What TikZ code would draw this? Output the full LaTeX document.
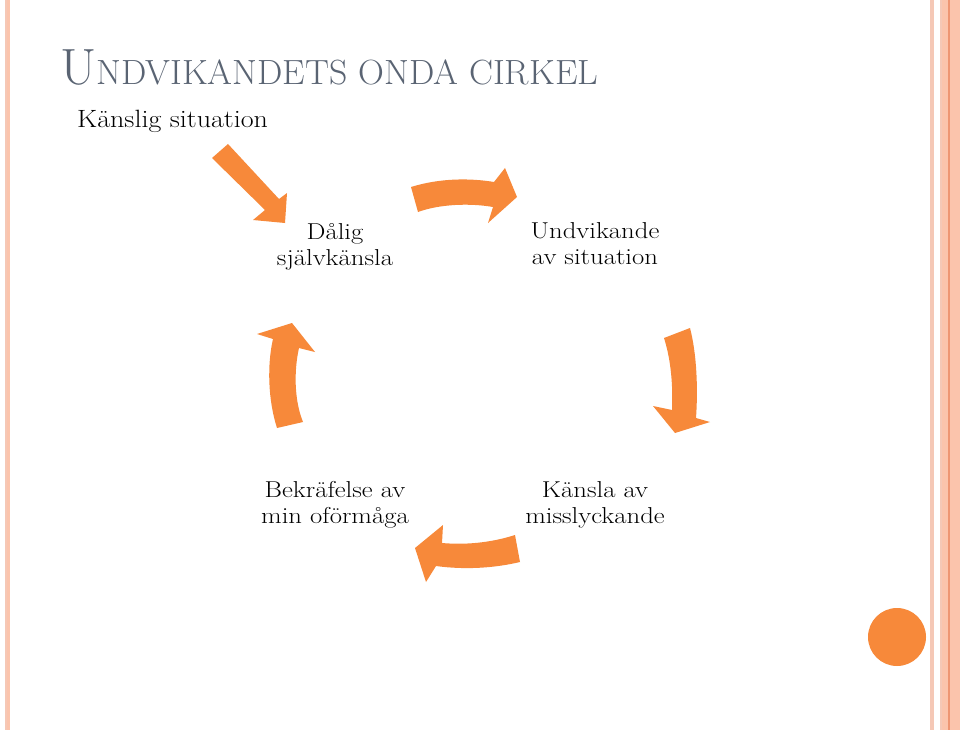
\documentclass[tikz,border=0pt]{standalone}
\usepackage{fontspec}
\usepackage{graphicx}
\definecolor{arrorange}{RGB}{247,137,58}
\definecolor{titlegray}{RGB}{90,100,115}
\definecolor{stripelight}{RGB}{245,200,182}
\definecolor{stripesalmon}{RGB}{251,196,172}
\definecolor{stripedark}{RGB}{238,150,115}
\newcommand{\wtx}[1]{\scalebox{1.12}[1]{#1}}
\newcommand{\ltx}[1]{\scalebox{1.16}[1]{#1}}
\begin{document}
\begin{tikzpicture}[x=1pt,y=-1pt,
  blockarrow/.style={fill=arrorange,draw=none},
  label/.style={font=\fontsize{23}{25.5}\selectfont,align=center,anchor=base,inner sep=0pt},
]
\useasboundingbox (0,0) rectangle (960,730);
\fill[white] (0,0) rectangle (960,730);
% side stripes
\fill[stripelight] (5,0) rectangle (7,730);
\fill[stripesalmon] (7,0) rectangle (10,730);
\fill[stripelight] (930,0) rectangle (934,730);
\fill[stripesalmon] (940,0) rectangle (960,730);
\fill[stripelight] (940,0) rectangle (942,730);
\fill[stripedark] (948,0) rectangle (949.5,730);
% title
\node[anchor=base west,inner sep=0pt,text=titlegray] (title) at (60,85)
  {\resizebox{538pt}{\height}{\fontsize{51}{51}\selectfont U\fontsize{35}{35}\selectfont NDVIKANDETS ONDA CIRKEL}};
\node[anchor=base west,inner sep=0pt,font=\fontsize{25}{29}\selectfont] (start) at (77,128) {\wtx{Känslig situation}};
% labels (anchor base = last line baseline)
\node[label] (dalig) at (335,265) {\ltx{Dålig}\\\ltx{självkänsla}};
\node[label] (undv) at (595,264) {\ltx{Undvikande}\\\ltx{av situation}};
\node[label] (kansla) at (595,523) {\ltx{Känsla av}\\\ltx{misslyckande}};
\node[label] (bekr) at (335,523) {\ltx{Bekräfelse av}\\\ltx{min oförmåga}};
% arrows
\fill[blockarrow] (212,158) -- (228,144) -- (279,199) -- (287,193) -- (285,223) -- (253,220) -- (265,210) -- cycle;
\fill[blockarrow] (411,187) .. controls (440,178) and (470,178) .. (494,182) -- (505,168) -- (517,197) -- (488,223) -- (493,207) .. controls (470,203) and (440,204) .. (418,212) -- cycle;
\fill[blockarrow] (664,338) -- (690,328) .. controls (697,355) and (698,390) .. (696,418) -- (710,422) -- (675,433) -- (653,406) -- (672,410) .. controls (673,385) and (671,360) .. (664,338) -- cycle;
\fill[blockarrow] (515,535) .. controls (490,543) and (465,545) .. (442,543) -- (443,525) -- (415,548) -- (426,582) -- (436,566) .. controls (465,570) and (495,568) .. (520,562) -- cycle;
\fill[blockarrow] (277,428) .. controls (268,400) and (267,365) .. (273,339) -- (257,334) -- (292,323) -- (315,352) -- (299,348) .. controls (294,370) and (294,400) .. (303,422) -- cycle;
% circle
\fill[arrorange] (897,637) circle (29);
\end{tikzpicture}
\end{document}
